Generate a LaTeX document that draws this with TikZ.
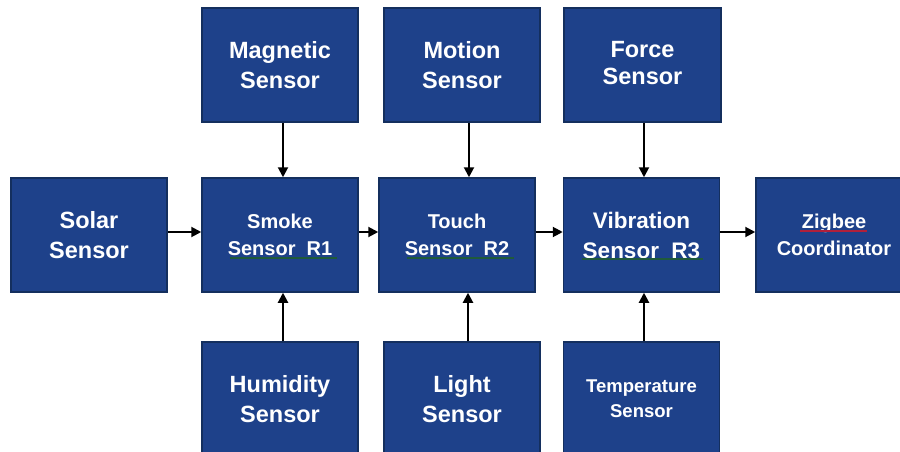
\documentclass[tikz,border=0pt]{standalone}
\usepackage{fontspec}
\setmainfont{Liberation Sans}
\usetikzlibrary{arrows.meta}
\definecolor{boxfill}{HTML}{1E418A}
\definecolor{boxline}{HTML}{142F5E}
\definecolor{squigG}{HTML}{1F5A3A}
\definecolor{squigR}{HTML}{B0203A}
\tikzset{
  sbox/.style={draw=boxline, line width=1.5pt, fill=boxfill, rectangle, inner sep=0pt,
    minimum width=156pt, minimum height=114pt, text=white, align=center,
    font=\bfseries\fontsize{23.5}{30}\selectfont},
  smalltxt/.style={font=\bfseries\fontsize{20}{27}\selectfont},
  arr/.style={line width=2pt, -{Triangle[length=10pt,width=10pt]}},
  squig/.style={line width=1.2pt}
}
\begin{document}
\begin{tikzpicture}[x=1pt,y=1pt]
\useasboundingbox (0,0) rectangle (900,451);
\clip (0,0) rectangle (900,451);
\fill[white] (0,0) rectangle (900,451);
% top row
\node[sbox] (mag) at (280,386) {Magnetic\\Sensor};
\node[sbox] (motion) at (462,386) {Motion\\Sensor};
\node[sbox, minimum width=157pt] (force) at (642.5,386) {\raisebox{3pt}{\begin{tabular}{@{}c@{}}Force\\[-3.5pt]Sensor\end{tabular}}};
% middle row
\node[sbox] (solar) at (89,216) {Solar\\Sensor};
\node[sbox, smalltxt] (smoke) at (280,216) {Smoke\\Sensor\ \ R1};
\node[sbox, smalltxt] (touch) at (457,216) {Touch\\Sensor\ \ R2};
\node[sbox, font=\bfseries\fontsize{22.5}{30}\selectfont] (vib) at (641.5,216) {Vibration\\Sensor\ \ R3};
\node[sbox, smalltxt] (zig) at (834,216) {Zigbee\\Coordinator};
% bottom row
\node[sbox] (hum) at (280,52) {Humidity\\Sensor};
\node[sbox] (light) at (462,52) {Light\\Sensor};
\node[sbox, font=\bfseries\fontsize{18.5}{25}\selectfont] (temp) at (641.5,52) {Temperature\\Sensor};
% spell-check underlines
\draw[squig, squigG] ([xshift=-50pt,yshift=-23pt]smoke.center) -- ([xshift=57pt,yshift=-23pt]smoke.center);
\draw[squig, squigG] ([xshift=-50pt,yshift=-23pt]touch.center) -- ([xshift=57pt,yshift=-23pt]touch.center);
\draw[squig, squigG] ([xshift=-60pt,yshift=-24pt]vib.center) -- ([xshift=61pt,yshift=-24pt]vib.center);
\draw[squig, squigR] ([xshift=-34pt,yshift=4pt]zig.center) -- ([xshift=33pt,yshift=4pt]zig.center);
% horizontal arrows
\draw[arr] ([yshift=3pt]solar.east) -- ([yshift=3pt]smoke.west);
\draw[arr] ([yshift=3pt]smoke.east) -- ([yshift=3pt]touch.west);
\draw[arr] ([yshift=3pt]touch.east) -- ([yshift=3pt]vib.west);
\draw[arr] ([yshift=3pt]vib.east) -- ([yshift=3pt]zig.west);
% vertical arrows down
\draw[arr] ([xshift=3pt]mag.south) -- ([xshift=3pt]smoke.north);
\draw[arr] ([xshift=7pt]motion.south) -- ([xshift=12pt]touch.north);
\draw[arr] ([xshift=1.5pt]force.south) -- ([xshift=2.5pt]vib.north);
% vertical arrows up
\draw[arr] ([xshift=3pt]hum.north) -- ([xshift=3pt]smoke.south);
\draw[arr] ([xshift=6pt]light.north) -- ([xshift=11pt]touch.south);
\draw[arr] ([xshift=2.5pt]temp.north) -- ([xshift=2.5pt]vib.south);
\end{tikzpicture}
\end{document}
